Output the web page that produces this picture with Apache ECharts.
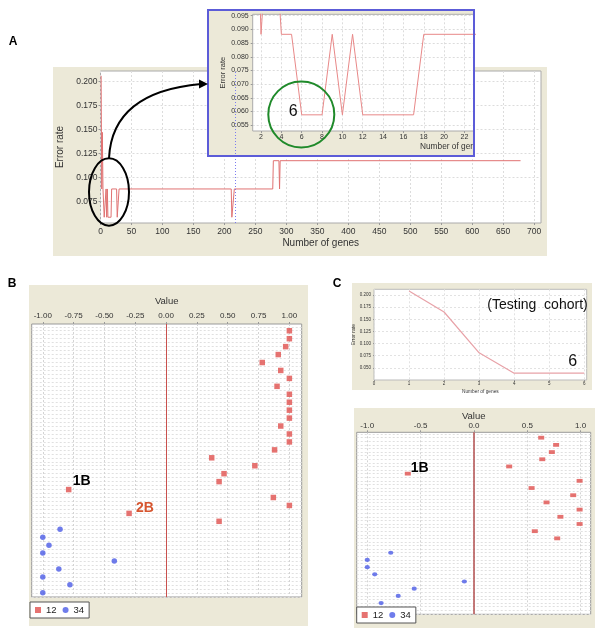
<!DOCTYPE html>
<html><head><meta charset="utf-8">
<script src="https://cdn.jsdelivr.net/npm/echarts@6/dist/echarts.min.js"></script>
<style>html,body{margin:0;padding:0;background:#fff}#c{width:600px;height:632px}</style>
</head><body><div id="c"></div>
<script>
// ---------- Panel A: error rate vs number of genes (training) ----------
const genesA = [1,2,3,4,5,6,8,9,10,11,12,17,18,26,27,29,30,211,212,215,216,278,279,288,289,290,678];
const errorA = [0.2059,0.0882,0.1471,0.0882,0.0882,0.0588,0.0588,0.0882,0.0588,0.0882,0.0588,0.0588,0.0882,0.0882,0.0588,0.0588,0.0882,0.0882,0.0588,0.0588,0.0882,0.0882,0.1176,0.1176,0.0882,0.1176,0.1176];
const markerA = 218;      // dotted cross-hair position (genes)
const markerInset = 6;    // dotted cross-hair in the zoom inset
const ticksAx = [0,50,100,150,200,250,300,350,400,450,500,550,600,650,700];
const ticksAy = [0.075,0.100,0.125,0.150,0.175,0.200];
const ticksInsetX = [2,4,6,8,10,12,14,16,18,20,22];
const ticksInsetY = [0.055,0.060,0.065,0.070,0.075,0.080,0.085,0.090,0.095];

// ---------- Panel B: values per sample ----------
const valuesB12 = [1.00,1.00,0.97,0.91,0.78,0.93,1.00,0.90,1.00,1.00,1.00,1.00,0.93,1.00,1.00,0.88,0.37,0.72,0.47,0.43,-0.79,0.87,1.00,-0.30,0.43];
const rowsB12   = [1,2,3,4,5,6,7,8,9,10,11,12,13,14,15,16,17,18,19,20,21,22,23,24,25];
const valuesB34 = [-0.86,-1.00,-0.95,-1.00,-0.42,-0.87,-1.00,-0.78,-1.00];
const rowsB34   = [26,27,28,29,30,31,32,33,34];
const ticksValueB = [-1.00,-0.75,-0.50,-0.25,0.00,0.25,0.50,0.75,1.00];

// ---------- Panel C: testing cohort ----------
const genesC = [1,2,3,4,5,6];
const errorC = [0.208,0.165,0.081,0.039,0.039,0.039];
const ticksCx = [0,1,2,3,4,5,6];
const ticksCy = [0.050,0.075,0.100,0.125,0.150,0.175,0.200];
const valuesC12 = [0.63,0.77,0.73,0.64,0.33,-0.62,0.99,0.54,0.93,0.68,0.99,0.81,0.99,0.57,0.78];
const rowsC12   = [1,2,3,4,5,6,7,8,9,10,11,12,13,14,15];
const valuesC34 = [-0.78,-1.00,-1.00,-0.93,-0.09,-0.56,-0.71,-0.87];
const rowsC34   = [17,18,19,20,21,22,23,24];
const ticksValueC = [-1.0,-0.5,0.0,0.5,1.0];

const FONT = 'Liberation Sans, Arial, sans-serif';
const BEIGE = '#ECE9D8';
const RED = '#e0504e', BLUE = '#4b5be6';
const halfRows = (a, b) => { const r = []; for (let v = a; v <= b + 1e-9; v += 0.5) r.push(v); return r; };
const pairs = (xs, ys) => xs.map((x, i) => [x, ys[i]]);

const chart = echarts.init(document.getElementById('c'), null, {renderer: 'canvas'});

const lbl = (size, fmt, margin) => ({fontSize: size, color: '#333', fontFamily: FONT, margin: margin, formatter: fmt});
const tick = (len, vals) => ({show: true, length: len, customValues: vals, lineStyle: {color: '#999'}});
const split = (color) => ({show: true, lineStyle: {color: color, type: [2, 2], width: 1}});

const option = {
  animation: false,
  textStyle: {fontFamily: FONT},
  grid: [
    {left: 100.5, top: 71, width: 440.5, height: 152, show: true, backgroundColor: '#fff', borderColor: '#aaa', borderWidth: 1, z: 1, outerBoundsMode: 'none'},
    {left: 252.7, top: 14.3, width: 221.3, height: 116.7, show: true, backgroundColor: '#fff', borderColor: '#aaa', borderWidth: 1, z: 6, outerBoundsMode: 'none'},
    {left: 31.7, top: 324, width: 270, height: 273, show: true, backgroundColor: '#fff', borderColor: '#999', borderWidth: 1, z: 1, outerBoundsMode: 'none'},
    {left: 374, top: 289.3, width: 212.7, height: 90.7, show: true, backgroundColor: '#fff', borderColor: '#bbb', borderWidth: 1, z: 1, outerBoundsMode: 'none'},
    {left: 356.7, top: 432.3, width: 234, height: 182, show: true, backgroundColor: '#fff', borderColor: '#999', borderWidth: 1, z: 1, outerBoundsMode: 'none'}
  ],
  xAxis: [
    {gridIndex: 0, type: 'value', min: 0, max: 711, z: 1,
     axisLine: {show: false}, axisTick: tick(2, ticksAx),
     axisLabel: Object.assign(lbl(8.5, v => String(v), 4), {customValues: ticksAx}),
     splitLine: split('#dcdcdc'),
     name: 'Number of genes', nameLocation: 'middle', nameGap: 15, nameTextStyle: {fontSize: 10, color: '#333', fontFamily: FONT}},
    {gridIndex: 1, type: 'value', min: 1.18, max: 22.94, z: 7,
     axisLine: {show: false}, axisTick: tick(2, ticksInsetX),
     axisLabel: Object.assign(lbl(7, v => String(v), 3), {customValues: ticksInsetX}),
     splitLine: split('#dcdcdc')},
    {gridIndex: 2, type: 'value', position: 'top', min: -1.09, max: 1.10, z: 1,
     axisLine: {show: false}, axisTick: tick(2, ticksValueB),
     axisLabel: Object.assign(lbl(8, v => v.toFixed(2), 4), {customValues: ticksValueB}),
     splitLine: split('#d4d4d4'),
     name: 'Value', nameLocation: 'middle', nameGap: 18, nameTextStyle: {fontSize: 9.5, color: '#333', fontFamily: FONT}},
    {gridIndex: 3, type: 'value', min: 0, max: 6.07, z: 1,
     axisLine: {show: false}, axisTick: tick(1, ticksCx),
     axisLabel: Object.assign(lbl(4.5, v => String(v), 1.5), {customValues: ticksCx}),
     splitLine: split('#e2e2e2'),
     name: 'Number of genes', nameLocation: 'middle', nameGap: 9, nameTextStyle: {fontSize: 4.8, color: '#333', fontFamily: FONT}},
    {gridIndex: 4, type: 'value', position: 'top', min: -1.099, max: 1.094, z: 1,
     axisLine: {show: false}, axisTick: tick(2, ticksValueC),
     axisLabel: Object.assign(lbl(8, v => v.toFixed(1), 2.5), {customValues: ticksValueC}),
     splitLine: split('#d4d4d4'),
     name: 'Value', nameLocation: 'middle', nameGap: 10, nameTextStyle: {fontSize: 9.5, color: '#333', fontFamily: FONT}}
  ],
  yAxis: [
    {gridIndex: 0, type: 'value', min: 0.0528, max: 0.2109, z: 1,
     axisLine: {show: false}, axisTick: tick(2, ticksAy),
     axisLabel: Object.assign(lbl(8.5, v => v.toFixed(3), 3), {customValues: ticksAy}),
     splitLine: split('#dcdcdc'),
     name: 'Error rate', nameLocation: 'middle', nameGap: 21, nameTextStyle: {fontSize: 10, color: '#333', fontFamily: FONT}},
    {gridIndex: 1, type: 'value', min: 0.0529, max: 0.0955, z: 7,
     axisLine: {show: false}, axisTick: tick(2, ticksInsetY),
     axisLabel: Object.assign(lbl(7, v => v.toFixed(3), 4), {customValues: ticksInsetY}),
     splitLine: split('#dcdcdc'),
     name: 'Error rate', nameLocation: 'middle', nameGap: 25, nameTextStyle: {fontSize: 7.5, color: '#333', fontFamily: FONT}},
    {gridIndex: 2, type: 'value', inverse: true, min: 0.15, max: 34.53, z: 1,
     axisLine: {show: false}, axisLabel: {show: false},
     axisTick: {show: false, customValues: halfRows(0.5, 34.5)},
     splitLine: split('#e0e0e0')},
    {gridIndex: 3, type: 'value', min: 0.025, max: 0.2117, z: 1,
     axisLine: {show: false}, axisTick: tick(1, ticksCy),
     axisLabel: Object.assign(lbl(4.5, v => v.toFixed(3), 3), {customValues: ticksCy}),
     splitLine: split('#e2e2e2'),
     name: 'Error rate', nameLocation: 'middle', nameGap: 6, nameTextStyle: {fontSize: 5, color: '#333', fontFamily: FONT}},
    {gridIndex: 4, type: 'value', inverse: true, min: 0.25, max: 25.56, z: 1,
     axisLine: {show: false}, axisLabel: {show: false},
     axisTick: {show: false, customValues: halfRows(0.5, 25.5)},
     splitLine: split('#e0e0e0')}
  ],
  legend: [
    {data: ['12', '34'], left: 30, top: 602, itemWidth: 6, itemHeight: 6, itemGap: 6, padding: [3, 5, 3, 5],
     borderColor: '#555', borderWidth: 1, backgroundColor: '#fff', selectedMode: false,
     textStyle: {fontSize: 9.5, color: '#222', fontFamily: FONT}},
    {data: ['12', '34'], left: 356.7, top: 607, itemWidth: 6, itemHeight: 6, itemGap: 6, padding: [3, 5, 3, 5],
     borderColor: '#555', borderWidth: 1, backgroundColor: '#fff', selectedMode: false,
     textStyle: {fontSize: 9.5, color: '#222', fontFamily: FONT}}
  ],
  series: [
    {type: 'line', xAxisIndex: 0, yAxisIndex: 0, data: pairs(genesA, errorA), showSymbol: false, z: 2,
     lineStyle: {color: '#e07272', width: 1}, itemStyle: {color: '#e07272'},
     markLine: {silent: true, symbol: 'none', label: {show: false}, data: [{xAxis: markerA}],
                lineStyle: {color: '#7b7bf0', type: [1, 2], width: 1}}},
    {type: 'line', xAxisIndex: 1, yAxisIndex: 1, data: pairs(genesA, errorA), showSymbol: false, z: 8, clip: true,
     lineStyle: {color: '#e88888', width: 1}, itemStyle: {color: '#e88888'},
     markLine: {silent: true, symbol: 'none', label: {show: false}, data: [{xAxis: markerInset}],
                lineStyle: {color: '#8a8af0', type: [1, 2], width: 1}}},
    {name: '12', type: 'scatter', xAxisIndex: 2, yAxisIndex: 2, data: pairs(valuesB12, rowsB12), symbol: 'rect', symbolSize: 5.5, z: 3,
     itemStyle: {color: RED},
     markLine: {silent: true, symbol: 'none', label: {show: false}, data: [{xAxis: 0}], lineStyle: {color: '#c9504d', type: 'solid', width: 1}}},
    {name: '34', type: 'scatter', xAxisIndex: 2, yAxisIndex: 2, data: pairs(valuesB34, rowsB34), symbol: 'circle', symbolSize: 5.5, z: 3,
     itemStyle: {color: BLUE}},
    {type: 'line', xAxisIndex: 3, yAxisIndex: 3, data: pairs(genesC, errorC), showSymbol: false, z: 2,
     lineStyle: {color: '#e8a2a8', width: 1.2}, itemStyle: {color: '#e8a2a8'}},
    {name: '12', type: 'scatter', xAxisIndex: 4, yAxisIndex: 4, data: pairs(valuesC12, rowsC12), symbol: 'rect', symbolSize: [6, 3.8], z: 3,
     itemStyle: {color: RED},
     markLine: {silent: true, symbol: 'none', label: {show: false}, data: [{xAxis: 0}], lineStyle: {color: '#b85a5a', type: 'solid', width: 1.6}}},
    {name: '34', type: 'scatter', xAxisIndex: 4, yAxisIndex: 4, data: pairs(valuesC34, rowsC34), symbol: 'circle', symbolSize: [5.2, 4.2], z: 3,
     itemStyle: {color: BLUE}}
  ],
  graphic: {elements: [
    // panel backgrounds
    {type: 'rect', z: -1, silent: true, shape: {x: 53, y: 67, width: 494, height: 189}, style: {fill: BEIGE}},
    {type: 'rect', z: -1, silent: true, shape: {x: 29, y: 285, width: 279, height: 341}, style: {fill: BEIGE}},
    {type: 'rect', z: -1, silent: true, shape: {x: 352, y: 283, width: 240, height: 107}, style: {fill: BEIGE}},
    {type: 'rect', z: -1, silent: true, shape: {x: 354, y: 408, width: 241, height: 220}, style: {fill: BEIGE}},
    // inset box
    {type: 'rect', z: 5, silent: true, shape: {x: 208, y: 10, width: 266, height: 146}, style: {fill: BEIGE}},
    {type: 'text', z: 9, silent: true, x: 420, y: 147, style: {text: 'Number of gen', fontSize: 8.3, fill: '#333', font: '8.3px ' + FONT, verticalAlign: 'middle'}},
    {type: 'rect', z: 20, silent: true, shape: {x: 208, y: 10, width: 266, height: 146}, style: {fill: null, stroke: '#5c5cd8', lineWidth: 2}},
    {type: 'circle', z: 21, silent: true, shape: {cx: 301.3, cy: 114.5, r: 33}, style: {fill: null, stroke: '#1f8a2a', lineWidth: 2}},
    {type: 'text', z: 21, silent: true, x: 293.3, y: 111.5, style: {text: '6', font: '16px ' + FONT, fill: '#111', align: 'center', verticalAlign: 'middle'}},
    // ellipse + arrow
    {type: 'ellipse', z: 21, silent: true, shape: {cx: 109, cy: 192, rx: 20, ry: 33.7}, style: {fill: null, stroke: '#000', lineWidth: 2}},
    {type: 'bezierCurve', z: 21, silent: true, shape: {x1: 109, y1: 158.3, cpx1: 112, cpy1: 92, x2: 201, y2: 84}, style: {fill: null, stroke: '#000', lineWidth: 2}},
    {type: 'polygon', z: 21, silent: true, shape: {points: [[208, 84], [199, 79.5], [199, 88.5]]}, style: {fill: '#000'}},
    // panel letters
    {type: 'text', z: 21, silent: true, x: 13, y: 42, style: {text: 'A', font: 'bold 12px ' + FONT, fill: '#000', align: 'center', verticalAlign: 'middle'}},
    {type: 'text', z: 21, silent: true, x: 12, y: 284, style: {text: 'B', font: 'bold 12px ' + FONT, fill: '#000', align: 'center', verticalAlign: 'middle'}},
    {type: 'text', z: 21, silent: true, x: 337, y: 284, style: {text: 'C', font: 'bold 12px ' + FONT, fill: '#000', align: 'center', verticalAlign: 'middle'}},
    // annotations
    {type: 'text', z: 21, silent: true, x: 81.7, y: 481, style: {text: '1B', font: 'bold 14px ' + FONT, fill: '#000', align: 'center', verticalAlign: 'middle'}},
    {type: 'text', z: 21, silent: true, x: 145, y: 508.5, style: {text: '2B', font: 'bold 14px ' + FONT, fill: '#d6552f', align: 'center', verticalAlign: 'middle'}},
    {type: 'text', z: 21, silent: true, x: 419.7, y: 468.5, style: {text: '1B', font: 'bold 14px ' + FONT, fill: '#000', align: 'center', verticalAlign: 'middle'}},
    {type: 'text', z: 21, silent: true, x: 537.5, y: 305.5, style: {text: '(Testing  cohort)', font: '14px ' + FONT, fill: '#111', align: 'center', verticalAlign: 'middle'}},
    {type: 'text', z: 21, silent: true, x: 572.7, y: 361.7, style: {text: '6', font: '16px ' + FONT, fill: '#111', align: 'center', verticalAlign: 'middle'}}
  ]}
};
chart.setOption(option);
</script>
</body></html>
